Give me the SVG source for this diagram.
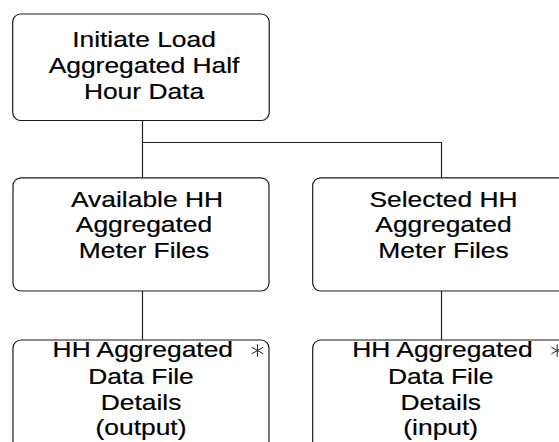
<svg xmlns="http://www.w3.org/2000/svg" width="559" height="442" viewBox="0 0 559 442">
  <style>
    .box { fill: #ffffff; stroke: #1a1a1a; stroke-width: 1.2; }
    .conn { fill: none; stroke: #222222; stroke-width: 1.2; }
    .lbl { font-family: "Liberation Sans", Arial, sans-serif; font-size: 22px; fill: #000000; stroke: #000000; stroke-width: 0.2; text-anchor: middle; }
    .star { stroke: #222222; stroke-width: 1; fill: none; }
  </style>
  <defs>
    <g id="asterisk" class="star">
      <line x1="0" y1="-6.2" x2="0" y2="6.2"/>
      <line x1="-5.8" y1="-3.3" x2="5.8" y2="3.3"/>
      <line x1="-5.8" y1="3.3" x2="5.8" y2="-3.3"/>
    </g>
  </defs>
  <rect width="559" height="442" fill="#ffffff"/>

  <g id="connectors">
    <path class="conn" d="M142.5 120.5 V178 M142.5 142.5 H441.5 V178"/>
    <path class="conn" d="M142.5 291 V340"/>
    <path class="conn" d="M441.5 291 V340"/>
  </g>

  <g id="node-initiate">
    <rect class="box" x="12.7" y="14" width="256.5" height="106.5" rx="8" ry="8"/>
    <g transform="translate(144,0) scale(1.2,1)">
      <text class="lbl" x="0" y="47.5">Initiate Load</text>
      <text class="lbl" x="0" y="73.3">Aggregated Half</text>
      <text class="lbl" x="0" y="99">Hour Data</text>
    </g>
  </g>

  <g id="node-available">
    <rect class="box" x="13" y="177.8" width="256" height="113.2" rx="8" ry="8"/>
    <g transform="translate(144,0) scale(1.2,1)">
      <text class="lbl" x="2.5" y="207.3">Available HH</text>
      <text class="lbl" x="0" y="232.5">Aggregated</text>
      <text class="lbl" x="0" y="257.8">Meter Files</text>
    </g>
  </g>

  <g id="node-selected">
    <rect class="box" x="312.7" y="177.8" width="256" height="113.2" rx="8" ry="8"/>
    <g transform="translate(443.5,0) scale(1.2,1)">
      <text class="lbl" x="0" y="207.3">Selected HH</text>
      <text class="lbl" x="0" y="232.5">Aggregated</text>
      <text class="lbl" x="0" y="257.8">Meter Files</text>
    </g>
  </g>

  <g id="node-output">
    <rect class="box" x="13" y="340" width="256" height="140" rx="8" ry="8"/>
    <g transform="translate(141,0) scale(1.2,1)">
      <text class="lbl" x="1.5" y="357.5">HH Aggregated</text>
      <text class="lbl" x="0" y="383.7">Data File</text>
      <text class="lbl" x="0" y="409.7">Details</text>
      <text class="lbl" x="0" y="435.5">(output)</text>
    </g>
    <use href="#asterisk" x="257.5" y="350.5"/>
  </g>

  <g id="node-input">
    <rect class="box" x="312.7" y="340" width="256" height="140" rx="8" ry="8"/>
    <g transform="translate(440.7,0) scale(1.2,1)">
      <text class="lbl" x="1.5" y="357.5">HH Aggregated</text>
      <text class="lbl" x="0" y="383.7">Data File</text>
      <text class="lbl" x="0" y="409.7">Details</text>
      <text class="lbl" x="0" y="435.5">(input)</text>
    </g>
    <use href="#asterisk" x="557.2" y="350.5"/>
  </g>
</svg>
